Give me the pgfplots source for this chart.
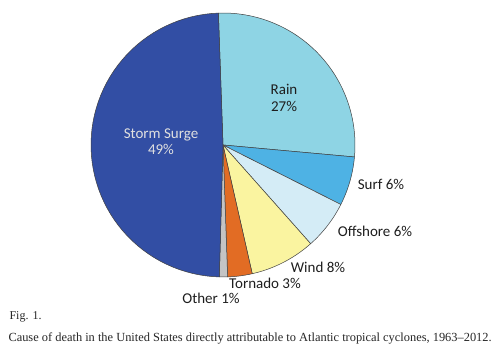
\documentclass[border=0pt]{standalone}
\usepackage{pgfplots}
\pgfplotsset{compat=1.18}
\usepackage{fontspec}
\setmainfont{Liberation Serif}
\newfontfamily\calib{Carlito}
\definecolor{cSurge}{RGB}{50,78,164}
\definecolor{cRain}{RGB}{142,212,228}
\definecolor{cSurf}{RGB}{78,178,228}
\definecolor{cOff}{RGB}{212,236,246}
\definecolor{cWind}{RGB}{250,244,160}
\definecolor{cTor}{RGB}{226,108,36}
\definecolor{cOther}{RGB}{196,196,196}
\definecolor{cTxt}{RGB}{30,30,30}
% slice: #1 cumulative percent before, #2 percent, #3 colour
\newcommand\slice[3]{%
  \addplot[draw=black!75, line width=0.5pt, fill=#3, samples=60, variable=\t,
    domain={92-3.6*(#1+#2)}:{92-3.6*(#1)}]
    ({223+132*cos(\t)},{206+132*sin(\t)}) -- (axis cs:223,206) -- cycle;
}
\begin{document}
\begin{tikzpicture}
\useasboundingbox (0,0) rectangle (501bp,351bp);
\begin{axis}[
  scale only axis, width=501bp, height=351bp,
  xmin=0, xmax=501, ymin=0, ymax=351,
  hide axis, clip=false]
% percentages: Rain 27, Surf 6, Offshore 6, Wind 8, Tornado 3, Other 1, Storm Surge 49
\slice{0}{27}{cRain}
\slice{27}{6}{cSurf}
\slice{33}{6}{cOff}
\slice{39}{8}{cWind}
\slice{47}{3}{cTor}
\slice{50}{1}{cOther}
\slice{51}{49}{cSurge}
\begin{scope}[font=\calib\fontsize{15bp}{17bp}\selectfont]
\node[text=black!12, align=center] at (axis cs:161,209.5) {Storm Surge\\[-1bp]49\%};
\node[text=cTxt, align=center] at (axis cs:284,253.5) {Rain\\[0bp]27\%};
\node[text=cTxt] at (axis cs:381,167) {Surf 6\%};
\node[text=cTxt] at (axis cs:375,120) {Offshore 6\%};
\node[text=cTxt] at (axis cs:318,84) {Wind 8\%};
\node[text=cTxt] at (axis cs:265,68) {Tornado 3\%};
\node[text=cTxt] at (axis cs:211,53) {Other 1\%};
\end{scope}
\node[anchor=west, font=\fontsize{12bp}{13bp}\selectfont, text=black!85] at (axis cs:6,34) {Fig. 1.};
\node[anchor=west, font=\fontsize{12.4bp}{13bp}\selectfont, text=black!85] at (axis cs:5,13) {Cause of death in the United States directly attributable to Atlantic tropical cyclones, 1963--2012.};
\end{axis}
\end{tikzpicture}
\end{document}
